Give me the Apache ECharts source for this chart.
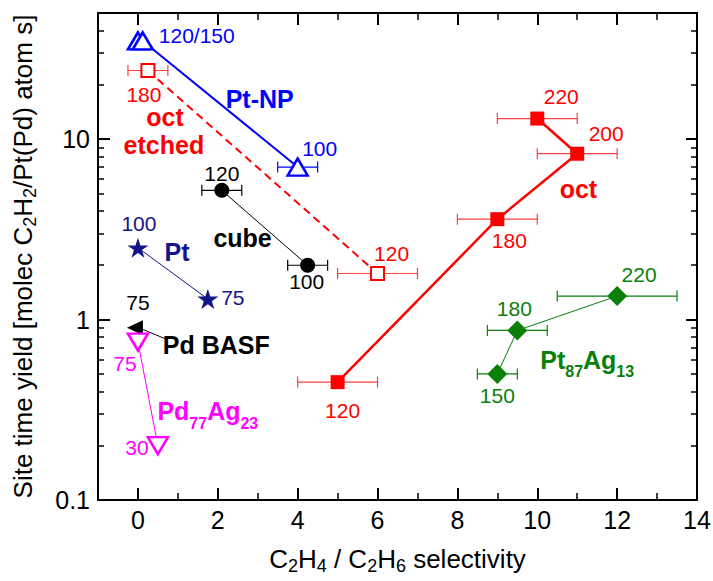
<!DOCTYPE html>
<html>
<head>
<meta charset="utf-8">
<script src="https://cdn.jsdelivr.net/npm/echarts@6/dist/echarts.min.js"></script>
<style>
  html, body { margin: 0; padding: 0; background: #fff; }
  #chart { width: 713px; height: 581px; }
</style>
</head>
<body>
<div id="chart"></div>
<script>
// ---- data: C2H4/C2H6 selectivity (x), site time yield (y), ±x error, temperature label ----
const ptNP_x = [0, 0.12, 4];
const ptNP_y = [35, 35, 7];
const ptNP_err = [0, 0, 0.5];
const ptNP_T = ['', '120/150', '100'];

const octEtched_x = [0.25, 6];
const octEtched_y = [24, 1.8];
const octEtched_err = [0.5, 1];
const octEtched_T = ['180', '120'];

const oct_x = [5, 9, 11, 10];
const oct_y = [0.45, 3.6, 8.3, 13];
const oct_err = [1, 1, 1, 1];
const oct_T = ['120', '180', '200', '220'];

const cube_x = [2.1, 4.25];
const cube_y = [5.2, 2.0];
const cube_err = [0.5, 0.5];
const cube_T = ['120', '100'];

const pt_x = [0, 1.75];
const pt_y = [2.5, 1.3];
const pt_T = ['100', '75'];

const pdBasf_x = [0];
const pdBasf_y = [0.9];
const pdBasf_T = ['75'];

const pdAg_x = [0, 0.5];
const pdAg_y = [0.75, 0.2];
const pdAg_T = ['75', '30'];

const ptAg_x = [9, 9.5, 12];
const ptAg_y = [0.5, 0.87, 1.35];
const ptAg_err = [0.5, 0.75, 1.5];
const ptAg_T = ['150', '180', '220'];

const xTicks = [0, 2, 4, 6, 8, 10, 12, 14];
const xMinorTicks = [1, 3, 5, 7, 9, 11, 13];
const yTicks = [0.1, 1, 10];
const yMinorTicks = [0.2, 0.3, 0.4, 0.5, 0.6, 0.7, 0.8, 0.9, 2, 3, 4, 5, 6, 7, 8, 9, 20, 30, 40];

// ---- styling / layout ----
const FONT = '"Liberation Sans", Arial, Helvetica, sans-serif';
const C = { blue: '#0000ff', red: '#ff0000', black: '#000000', navy: '#14148a', magenta: '#ff00ff', green: '#0a800a' };
const STAR = 'path://M50,0 L61.2,34.5 L97.6,34.5 L68.2,55.9 L79.4,90.5 L50,69.1 L20.6,90.5 L31.8,55.9 L2.4,34.5 L38.8,34.5 Z';

// label offsets in pixels from each marker centre
const off = {
  ptNP: [[0, 0], [54, -5], [22, -19]],
  octEtched: [[-4, 24], [14, -20]],
  oct: [[5, 28], [12, 21], [29, -20], [24, -22]],
  cube: [[0, -17], [-1, 16]],
  pt: [[1, -24], [25, -2]],
  pdBasf: [[3, -25]],
  pdAg: [[-13, 21], [-21, 2]],
  ptAg: [[0, 22], [-3, -22], [22, -22]]
};

// group name anchors (data space)
const groupNames = [
  { text: '{m|Pt-NP}', at: [3.05, 16.7], color: C.blue },
  { text: '{m|oct}', at: [0.68, 13.3], color: C.red, lh: 24 },
  { text: '{m|etched}', at: [0.65, 9.3], color: C.red, lh: 24 },
  { text: '{m|oct}', at: [11.03, 5.3], color: C.red },
  { text: '{m|cube}', at: [2.62, 2.82], color: C.black },
  { text: '{m|Pt}', at: [0.98, 2.36], color: C.navy },
  { text: '{m|Pd BASF}', at: [1.96, 0.726], color: C.black },
  { text: '{m|Pd}{s|77}{m|Ag}{s|23}', at: [1.75, 0.31], color: C.magenta },
  { text: '{m|Pt}{s|87}{m|Ag}{s|13}', at: [11.25, 0.6], color: C.green }
];
const pdBasfLeader = [[0.08, 0.89], [0.73, 0.775]];

function points(xs, ys, offsets) {
  return xs.map((x, i) => ({ value: [x, ys[i]], label: { offset: offsets[i] } }));
}
function errRows(xs, ys, es) {
  return xs.map((x, i) => [x, ys[i], es[i]]).filter(r => r[2] > 0);
}

function group(name, xs, ys, T, offsets, sym, line) {
  return Object.assign({
    type: 'line',
    name: name,
    data: points(xs, ys, offsets),
    z: 5,
    silent: true,
    animation: false,
    showSymbol: true,
    label: {
      show: true,
      position: 'inside',
      formatter: p => T[p.dataIndex],
      fontSize: 21,
      fontFamily: FONT,
      color: sym.labelColor
    },
    emphasis: { disabled: true }
  }, sym.opts, line);
}

function errorBars(xs, ys, es, color) {
  return {
    type: 'custom',
    silent: true,
    animation: false,
    z: 3,
    data: errRows(xs, ys, es),
    encode: { x: 0, y: 1 },
    renderItem: function (params, api) {
      const x = api.value(0), y = api.value(1), e = api.value(2);
      const l = api.coord([x - e, y]);
      const r = api.coord([x + e, y]);
      const h = 5.5;
      const st = { stroke: color, lineWidth: 1.2 };
      return {
        type: 'group',
        children: [
          { type: 'line', shape: { x1: l[0], y1: l[1], x2: r[0], y2: r[1] }, style: st },
          { type: 'line', shape: { x1: l[0], y1: l[1] - h, x2: l[0], y2: l[1] + h }, style: st },
          { type: 'line', shape: { x1: r[0], y1: r[1] - h, x2: r[0], y2: r[1] + h }, style: st }
        ]
      };
    }
  };
}

const series = [
  errorBars(ptNP_x, ptNP_y, ptNP_err, C.blue),
  errorBars(octEtched_x, octEtched_y, octEtched_err, 'rgba(255,0,0,0.75)'),
  errorBars(oct_x, oct_y, oct_err, 'rgba(255,0,0,0.75)'),
  errorBars(cube_x, cube_y, cube_err, C.black),
  errorBars(ptAg_x, ptAg_y, ptAg_err, C.green),

  group('Pt-NP', ptNP_x, ptNP_y, ptNP_T, off.ptNP,
    { labelColor: C.blue, opts: { symbol: 'triangle', symbolSize: [20, 17], itemStyle: { color: '#fff', borderColor: C.blue, borderWidth: 2.5 } } },
    { lineStyle: { color: C.blue, width: 2 } }),
  group('oct etched', octEtched_x, octEtched_y, octEtched_T, off.octEtched,
    { labelColor: C.red, opts: { symbol: 'rect', symbolSize: 13, itemStyle: { color: '#fff', borderColor: C.red, borderWidth: 2 } } },
    { lineStyle: { color: C.red, width: 2, type: [8, 5] } }),
  group('oct', oct_x, oct_y, oct_T, off.oct,
    { labelColor: C.red, opts: { symbol: 'rect', symbolSize: 14, itemStyle: { color: C.red } } },
    { lineStyle: { color: C.red, width: 2.5 } }),
  group('cube', cube_x, cube_y, cube_T, off.cube,
    { labelColor: C.black, opts: { symbol: 'circle', symbolSize: 15, itemStyle: { color: C.black } } },
    { lineStyle: { color: C.black, width: 1 } }),
  group('Pt', pt_x, pt_y, pt_T, off.pt,
    { labelColor: C.navy, opts: { symbol: STAR, symbolSize: [21, 20], itemStyle: { color: C.navy } } },
    { lineStyle: { color: C.navy, width: 1 } }),
  {
    type: 'line', name: 'leader', data: pdBasfLeader, symbol: 'none', silent: true, animation: false, z: 4,
    lineStyle: { color: C.black, width: 1 }
  },
  group('Pd BASF', pdBasf_x, pdBasf_y, pdBasf_T, off.pdBasf,
    { labelColor: C.black, opts: { symbol: 'triangle', symbolRotate: 90, symbolOffset: [-3, 0], symbolSize: [15, 16], itemStyle: { color: C.black } } },
    { lineStyle: { width: 0 } }),
  group('Pd77Ag23', pdAg_x, pdAg_y, pdAg_T, off.pdAg,
    { labelColor: C.magenta, opts: { symbol: 'triangle', symbolRotate: 180, symbolSize: [20, 17], itemStyle: { color: '#fff', borderColor: C.magenta, borderWidth: 2.5 } } },
    { lineStyle: { color: C.magenta, width: 1 } }),
  group('Pt87Ag13', ptAg_x, ptAg_y, ptAg_T, off.ptAg,
    { labelColor: C.green, opts: { symbol: 'diamond', symbolSize: [20, 20], itemStyle: { color: C.green } } },
    { lineStyle: { color: C.green, width: 1 } }),

  // group names
  {
    type: 'custom',
    silent: true,
    animation: false,
    z: 6,
    data: groupNames.map(g => g.at),
    encode: { x: 0, y: 1 },
    renderItem: function (params, api) {
      const g = groupNames[params.dataIndex];
      const p = api.coord(g.at);
      return {
        type: 'text',
        x: p[0], y: p[1],
        style: {
          text: g.text,
          align: 'center',
          verticalAlign: 'middle',
          fill: g.color,
          rich: {
            m: { fontSize: 25, fontWeight: 'bold', fontFamily: FONT, fill: g.color, lineHeight: g.lh || 40 },
            s: { fontSize: 16, fontWeight: 'bold', fontFamily: FONT, fill: g.color, lineHeight: 16, verticalAlign: 'bottom' }
          }
        }
      };
    }
  }
];

function xAxis(position, ticks, len, main) {
  return {
    type: 'value', min: -1, max: 14, position: position,
    axisLine: { show: !!main, onZero: false, lineStyle: { color: '#000', width: 2 } },
    axisTick: { show: true, inside: true, length: len, customValues: ticks, lineStyle: { color: '#000', width: main ? 2 : 1.5 } },
    axisLabel: main === 'label'
      ? { show: true, customValues: ticks, fontSize: 25, fontFamily: FONT, color: '#000', margin: 7 }
      : { show: false },
    splitLine: { show: false }
  };
}
function yAxis(position, ticks, len, main) {
  return {
    type: 'log', logBase: 10, min: 0.1, max: 50, position: position,
    axisLine: { show: !!main, onZero: false, lineStyle: { color: '#000', width: 2 } },
    axisTick: { show: true, inside: true, length: len, customValues: ticks, lineStyle: { color: '#000', width: main ? 2 : 1.5 } },
    axisLabel: main === 'label'
      ? { show: true, customValues: ticks, fontSize: 25, fontFamily: FONT, color: '#000', margin: 8,
          formatter: v => (v < 1 ? Number(v).toFixed(1) : String(Math.round(v))) }
      : { show: false },
    splitLine: { show: false },
    minorTick: { show: false }
  };
}

const xMain = xAxis('bottom', xTicks, 12, 'label');
xMain.name = '{m|C}{s|2}{m|H}{s|4}{m| / C}{s|2}{m|H}{s|6}{m| selectivity}';
xMain.nameLocation = 'middle';
xMain.nameGap = 43;
xMain.nameTextStyle = {
  color: '#000',
  rich: {
    m: { fontSize: 26, fontFamily: FONT, color: '#000', lineHeight: 32 },
    s: { fontSize: 18, fontFamily: FONT, color: '#000', lineHeight: 18, verticalAlign: 'bottom' }
  }
};

const yMain = yAxis('left', yTicks, 12, 'label');
yMain.name = '{m|Site time yield [molec C}{s|2}{m|H}{s|2}{m|/Pt(Pd) atom s]}';
yMain.nameLocation = 'middle';
yMain.nameGap = 59;
yMain.nameTextStyle = {
  color: '#000',
  rich: {
    m: { fontSize: 26, fontFamily: FONT, color: '#000', lineHeight: 32 },
    s: { fontSize: 18, fontFamily: FONT, color: '#000', lineHeight: 18, verticalAlign: 'bottom' }
  }
};

const option = {
  animation: false,
  backgroundColor: '#fff',
  grid: { left: 98, right: 16, top: 13, bottom: 81, containLabel: false, outerBoundsMode: 'none' },
  xAxis: [
    xMain,
    xAxis('bottom', xMinorTicks, 7, false),
    xAxis('top', xTicks, 12, true),
    xAxis('top', xMinorTicks, 7, false)
  ],
  yAxis: [
    yMain,
    yAxis('left', yMinorTicks, 6, false),
    yAxis('right', yTicks, 11, true),
    yAxis('right', yMinorTicks, 6, false)
  ],
  series: series
};

const chart = echarts.init(document.getElementById('chart'), null, { renderer: 'svg' });
chart.setOption(option);
</script>
</body>
</html>
